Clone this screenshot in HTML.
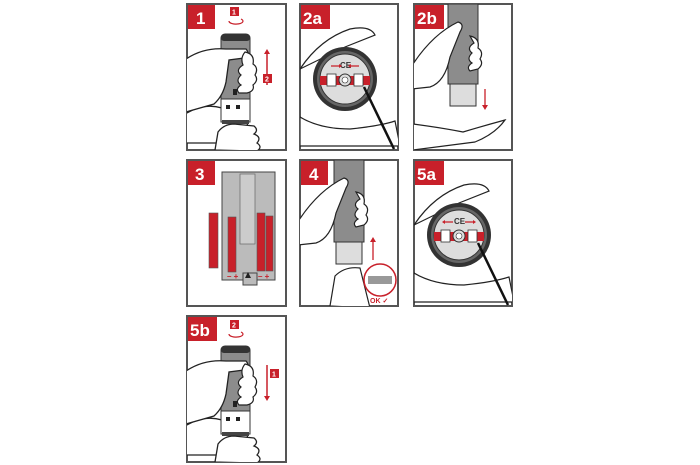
<!DOCTYPE html>
<html><head><style>
html,body{margin:0;padding:0;background:#fff;width:700px;height:465px;overflow:hidden}
svg{display:block}
text{font-family:"Liberation Sans",sans-serif;font-weight:bold}
</style></head><body>
<svg width="700" height="465" viewBox="0 0 700 465" xmlns="http://www.w3.org/2000/svg">
<defs>
<g id="twist">
  <path d="M-5 112 q20 -14 40 -8 q12 -6 26 -3 l-1 30 q-6 10 -20 8 l-45 0z" fill="#fff" stroke="#222" stroke-width="1.3"/>
  <rect x="34" y="30" width="29" height="88" rx="4" fill="#8c8c8c" stroke="#333" stroke-width="1"/>
  <rect x="34" y="30" width="29" height="7" rx="3" fill="#333"/>
  <rect x="34" y="95" width="29" height="23" fill="#fff" stroke="#333" stroke-width="1"/>
  <rect x="35" y="116" width="27" height="4" fill="#444"/>
  <rect x="46" y="85" width="4" height="6" fill="#222"/>
  <rect x="39" y="101" width="4" height="4" fill="#222"/><rect x="49" y="101" width="4" height="4" fill="#222"/>
  <path d="M-1 55 q18 -12 40 -10 l20 0 q5 6 -2 9 l-15 2 l-3 22 q-3 14 -12 22 l-28 8z" fill="#fff" stroke="#222" stroke-width="1.3"/>
  <path d="M58 48 q10 2 8 12 q6 4 2 11 q4 5 -2 10 q2 6 -6 8 l-8 0 q-4 -4 2 -8 q-6 -4 0 -10 q-6 -5 2 -10 q-3 -7 2 -13z" fill="#fff" stroke="#222" stroke-width="1.2"/>
  <path d="M28 146 l3 -18 q6 -8 16 -8 l20 2 q5 4 0 8 q8 3 3 9 q6 4 0 8 l-4 0 z" fill="#fff" stroke="#222" stroke-width="1.3"/>
</g>
<g id="disc">
  <path d="M0 60 q20 -30 50 -40 q20 -4 25 6 l-30 12z" fill="#fff" stroke="#222" stroke-width="1.2"/>
  <circle cx="45" cy="70" r="32" fill="#333"/>
  <circle cx="45" cy="70" r="28" fill="#666"/>
  <circle cx="45" cy="70" r="25" fill="#ddd" stroke="#333"/>
  <rect x="20" y="67" width="50" height="9" fill="#c8202a"/>
  <rect x="27" y="65" width="9" height="12" fill="#fff" stroke="#333" stroke-width="0.8"/>
  <rect x="54" y="65" width="9" height="12" fill="#fff" stroke="#333" stroke-width="0.8"/>
  <circle cx="45" cy="71" r="6" fill="#ddd" stroke="#333"/>
  <circle cx="45" cy="71" r="3" fill="#fff" stroke="#333" stroke-width="0.6"/>
  <text x="40" y="59" font-size="8" font-weight="normal" fill="#333">CE</text>
  <path d="M0 108 q20 12 50 12 q30 -3 45 -8 l5 25 l-100 0z" fill="#fff" stroke="#222" stroke-width="1.2"/>
  <line x1="64" y1="78" x2="94" y2="140" stroke="#111" stroke-width="2.5"/>
</g>
</defs>

<g fill="none" stroke="#555" stroke-width="2">
<rect x="187" y="4" width="99" height="146"/>
<rect x="300" y="4" width="98" height="146"/>
<rect x="414" y="4" width="98" height="146"/>
<rect x="187" y="160" width="99" height="146"/>
<rect x="300" y="160" width="98" height="146"/>
<rect x="414" y="160" width="98" height="146"/>
<rect x="187" y="316" width="99" height="146"/>
</g>

<svg x="187" y="4" width="99" height="146" overflow="hidden"><use href="#twist"/></svg>
<rect x="230" y="7" width="9" height="9" fill="#c8202a"/><text x="232" y="14.5" font-size="7" fill="#fff">1</text>
<path d="M229 21 a7 3 0 1 0 12 -2" fill="none" stroke="#c8202a" stroke-width="1.2"/>
<line x1="267" y1="52" x2="267" y2="85" stroke="#c8202a" stroke-width="1.5"/><path d="M264 54 l3 -5 l3 5z" fill="#c8202a"/>
<rect x="263" y="74" width="9" height="9" fill="#c8202a"/><text x="265" y="81.5" font-size="7" fill="#fff">2</text>

<svg x="300" y="4" width="98" height="146" overflow="hidden"><use href="#disc" transform="translate(0,5)"/></svg>
<path d="M331 66 h8 M359 66 h-8" stroke="#c8202a" stroke-width="1.3"/>
<path d="M339 64 v4 l3 -2z M351 64 v4 l-3 -2z" fill="#c8202a"/>

<svg x="414" y="4" width="98" height="146" overflow="hidden">
 <rect x="34" y="0" width="30" height="80" fill="#8c8c8c" stroke="#333"/>
 <rect x="36" y="80" width="26" height="22" fill="#ddd" stroke="#333"/>
 <path d="M-1 60 q20 -30 45 -42 q7 2 2 10 l-10 25 q-5 25 -20 30 l-18 2z" fill="#fff" stroke="#222" stroke-width="1.2"/>
 <path d="M56 32 q10 2 8 12 q6 4 2 11 q4 5 -2 10 l-8 2 q-4 -4 2 -8 q-6 -4 0 -10 q-6 -5 2 -10z" fill="#fff" stroke="#222" stroke-width="1.2"/>
 <path d="M-1 120 q30 4 50 8 q20 -6 42 -12 q-10 14 -30 22 l-62 8z" fill="#fff" stroke="#222" stroke-width="1.2"/>
 <line x1="71" y1="85" x2="71" y2="103" stroke="#c8202a" stroke-width="1.3"/><path d="M68 101 l3 5 l3 -5z" fill="#c8202a"/>
</svg>

<svg x="187" y="160" width="99" height="146">
 <rect x="35" y="12" width="53" height="108" fill="#bbb" stroke="#444"/>
 <rect x="56" y="113" width="14" height="12" fill="#bbb" stroke="#444"/>
 <rect x="53" y="14" width="15" height="70" fill="#ccc" stroke="#666" stroke-width="0.7"/>
 <rect x="41" y="57" width="8" height="55" fill="#c8202a" stroke="#555" stroke-width="0.6"/>
 <rect x="70" y="53" width="8" height="58" fill="#c8202a" stroke="#555" stroke-width="0.6"/>
 <rect x="79" y="56" width="7" height="55" fill="#c8202a" stroke="#555" stroke-width="0.6"/>
 <rect x="22" y="53" width="9" height="55" fill="#c8202a" stroke="#555" stroke-width="0.6"/>
 <text x="40" y="119" font-size="8" fill="#c8202a">– +</text>
 <text x="71" y="119" font-size="8" fill="#c8202a">– +</text>
 <path d="M58 118 l3 -6 l3 6z" fill="#222"/>
</svg>

<svg x="300" y="160" width="98" height="146" overflow="hidden">
 <rect x="34" y="0" width="30" height="82" fill="#8c8c8c" stroke="#333"/>
 <rect x="36" y="82" width="26" height="22" fill="#ddd" stroke="#333"/>
 <path d="M-1 60 q20 -30 45 -42 q7 2 2 10 l-10 25 q-5 25 -20 30 l-18 2z" fill="#fff" stroke="#222" stroke-width="1.2"/>
 <path d="M56 32 q10 2 8 12 q6 4 2 11 q4 5 -2 10 l-8 2 q-4 -4 2 -8 q-6 -4 0 -10 q-6 -5 2 -10z" fill="#fff" stroke="#222" stroke-width="1.2"/>
 <path d="M30 146 l5 -30 q10 -10 25 -8 l10 40z" fill="#fff" stroke="#222" stroke-width="1.2"/>
 <line x1="73" y1="80" x2="73" y2="100" stroke="#c8202a" stroke-width="1.3"/><path d="M70 82 l3 -5 l3 5z" fill="#c8202a"/>
 <circle cx="80" cy="120" r="16" fill="#fff" stroke="#c8202a" stroke-width="1.5"/>
 <rect x="68" y="116" width="24" height="8" fill="#999"/>
 <text x="70" y="143" font-size="7" fill="#c8202a">OK ✓</text>
</svg>

<svg x="414" y="160" width="98" height="146" overflow="hidden"><use href="#disc" transform="translate(0,5)"/></svg>
<path d="M453 222 h-8 M465 222 h8" stroke="#c8202a" stroke-width="1.3"/>
<path d="M445 220 v4 l-3 -2z M473 220 v4 l3 -2z" fill="#c8202a"/>

<svg x="187" y="316" width="99" height="146" overflow="hidden"><use href="#twist"/></svg>
<rect x="230" y="320" width="9" height="9" fill="#c8202a"/><text x="232" y="327.5" font-size="7" fill="#fff">2</text>
<path d="M229 334 a7 3 0 1 0 12 -2" fill="none" stroke="#c8202a" stroke-width="1.2"/>
<line x1="267" y1="365" x2="267" y2="398" stroke="#c8202a" stroke-width="1.5"/><path d="M264 396 l3 5 l3 -5z" fill="#c8202a"/>
<rect x="270" y="369" width="9" height="9" fill="#c8202a"/><text x="272" y="376.5" font-size="7" fill="#fff">1</text>

<g fill="#c8202a">
<rect x="188" y="5" width="27" height="24"/>
<rect x="301" y="5" width="29" height="24"/>
<rect x="415" y="5" width="29" height="24"/>
<rect x="188" y="161" width="27" height="24"/>
<rect x="301" y="161" width="27" height="24"/>
<rect x="415" y="161" width="29" height="24"/>
<rect x="188" y="317" width="29" height="24"/>
</g>
<g fill="#fff" font-size="17">
<text x="196" y="24">1</text>
<text x="303" y="24">2a</text>
<text x="417" y="24">2b</text>
<text x="195" y="180">3</text>
<text x="309" y="180">4</text>
<text x="417" y="180">5a</text>
<text x="190" y="336">5b</text>
</g>
</svg>
</body></html>
